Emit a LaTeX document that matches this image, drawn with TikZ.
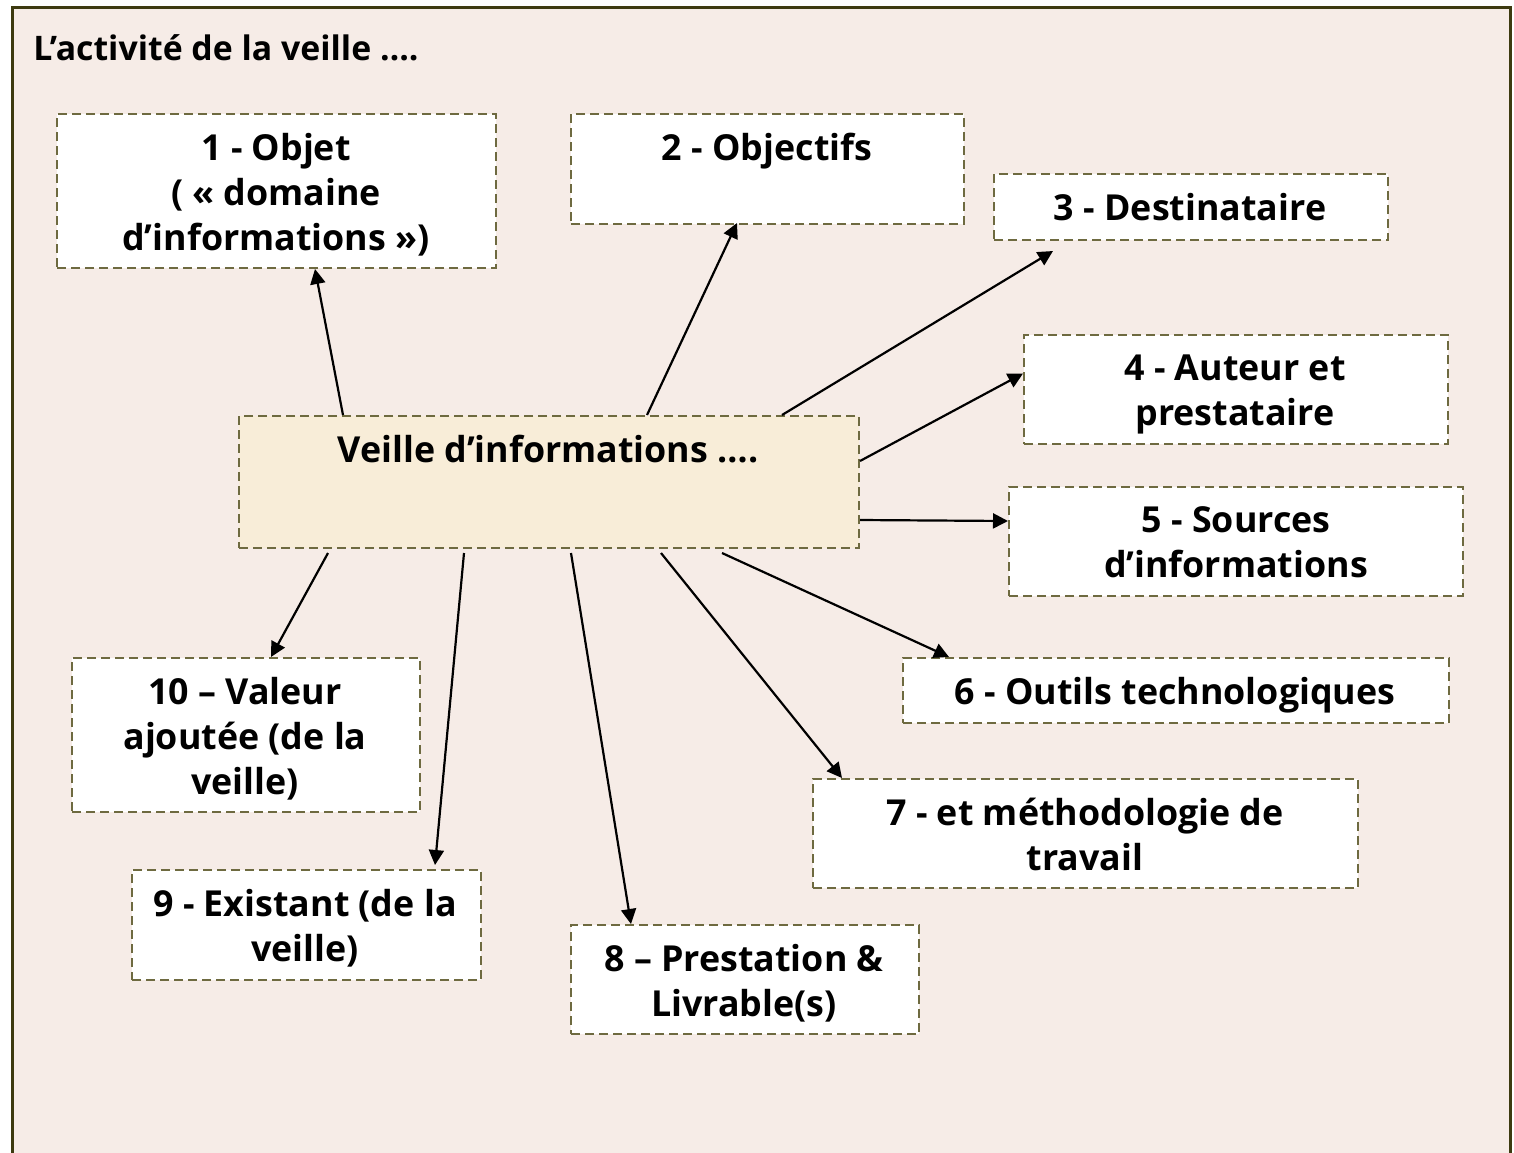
\documentclass[tikz,border=0pt]{standalone}
\usepackage{fontspec}
\setmainfont{Open Sans}
\usetikzlibrary{arrows.meta,calc,fit}
\definecolor{bgc}{HTML}{F6ECE7}
\definecolor{framec}{HTML}{3D3A10}
\definecolor{dashc}{HTML}{6E6A40}
\definecolor{corec}{HTML}{F8EDD8}
\begin{document}
\begin{tikzpicture}[x=0.5pt,y=-0.5pt,
  box/.style={draw=dashc, dash pattern=on 4.5pt off 2.5pt, fill=white, line width=1pt, inner sep=0pt},
  lbl/.style={anchor=north, align=center, font=\bfseries\fontsize{17.9}{22.5}\selectfont, inner sep=0pt},
  arr/.style={-{Triangle[length=7.5pt,width=7.5pt]}, line width=1.1pt, black}]
\useasboundingbox (0,0) rectangle (1514,1152);
\path[fill=white] (0,0) rectangle (1514,1152);
\draw[framec, fill=bgc, line width=1.5pt] (12,7) rectangle (1510,1170);
\node[anchor=west, font=\bfseries\fontsize{16.9}{22.5}\selectfont, inner sep=0pt] (title) at (33,48) {L’activité de la veille ….};

% boxes
\node[box, fit={(57,114) (496,268)}] (b1) {};
\node[box, fit={(571,114) (964,224)}] (b2) {};
\node[box, fit={(994,174) (1388,240)}] (b3) {};
\node[box, fit={(1024,335) (1448,444)}] (b4) {};
\node[box, fit={(1009,487) (1463,596)}] (b5) {};
\node[box, fit={(903,658) (1449,723)}] (b6) {};
\node[box, fit={(813,779) (1358,888)}] (b7) {};
\node[box, fit={(571,925) (919,1034)}] (b8) {};
\node[box, fit={(132,870) (481,980)}] (b9) {};
\node[box, fit={(72,658) (420,812)}] (b10) {};
\node[box, fill=corec, fit={(239,416) (859,548)}] (c) {};

% labels
\node[lbl] (t1) at ($(b1.north west)+(220,20)$) {1 - Objet\\( « domaine\\d’informations »)};
\node[lbl] (t2) at ($(b2.north west)+(197,20)$) {2 - Objectifs};
\node[lbl] (t3) at ($(b3.north west)+(197,20)$) {3 - Destinataire};
\node[lbl] (t4) at ($(b4.north west)+(212,20)$) {4 - Auteur et\\prestataire};
\node[lbl] (t5) at ($(b5.north west)+(228,20)$) {5 - Sources\\d’informations};
\node[lbl] (t6) at ($(b6.north west)+(273,20)$) {6 - Outils technologiques};
\node[lbl] (t7) at ($(b7.north west)+(273,20)$) {7 - et méthodologie de\\travail};
\node[lbl] (t8) at ($(b8.north west)+(174,20)$) {8 – Prestation \&\\Livrable(s)};
\node[lbl] (t9) at ($(b9.north west)+(174,20)$) {9 - Existant (de la\\veille)};
\node[lbl] (t10) at ($(b10.north west)+(174,20)$) {10 – Valeur\\ajoutée (de la\\veille)};
\node[lbl] (tc) at ($(c.north west)+(310,20)$) {Veille d’informations ….};

% arrows
\draw[arr] ($(c.north west)+(105,0)$) -- ($(b1.south west)+(259,0)$);
\draw[arr] ($(c.north west)+(409,0)$) -- ($(b2.south west)+(167,-2)$);
\draw[arr] ($(c.north west)+(544,0)$) -- ($(b3.south west)+(60,10)$);
\draw[arr] ($(c.north east)+(0,46)$) -- ($(b4.west)+(0,-16)$);
\draw[arr] ($(c.north east)+(0,105)$) -- ($(b5.west)+(0,-20.5)$);
\draw[arr] ($(c.south west)+(484,4)$) -- ($(b6.north west)+(47,0)$);
\draw[arr] ($(c.south west)+(423,4)$) -- ($(b7.north west)+(30,0)$);
\draw[arr] ($(c.south west)+(333,4)$) -- ($(b8.north west)+(61,0)$);
\draw[arr] ($(c.south west)+(226,4)$) -- ($(b9.north west)+(304,-4)$);
\draw[arr] ($(c.south west)+(90,4)$) -- ($(b10.north west)+(200,0)$);
\end{tikzpicture}
\end{document}
